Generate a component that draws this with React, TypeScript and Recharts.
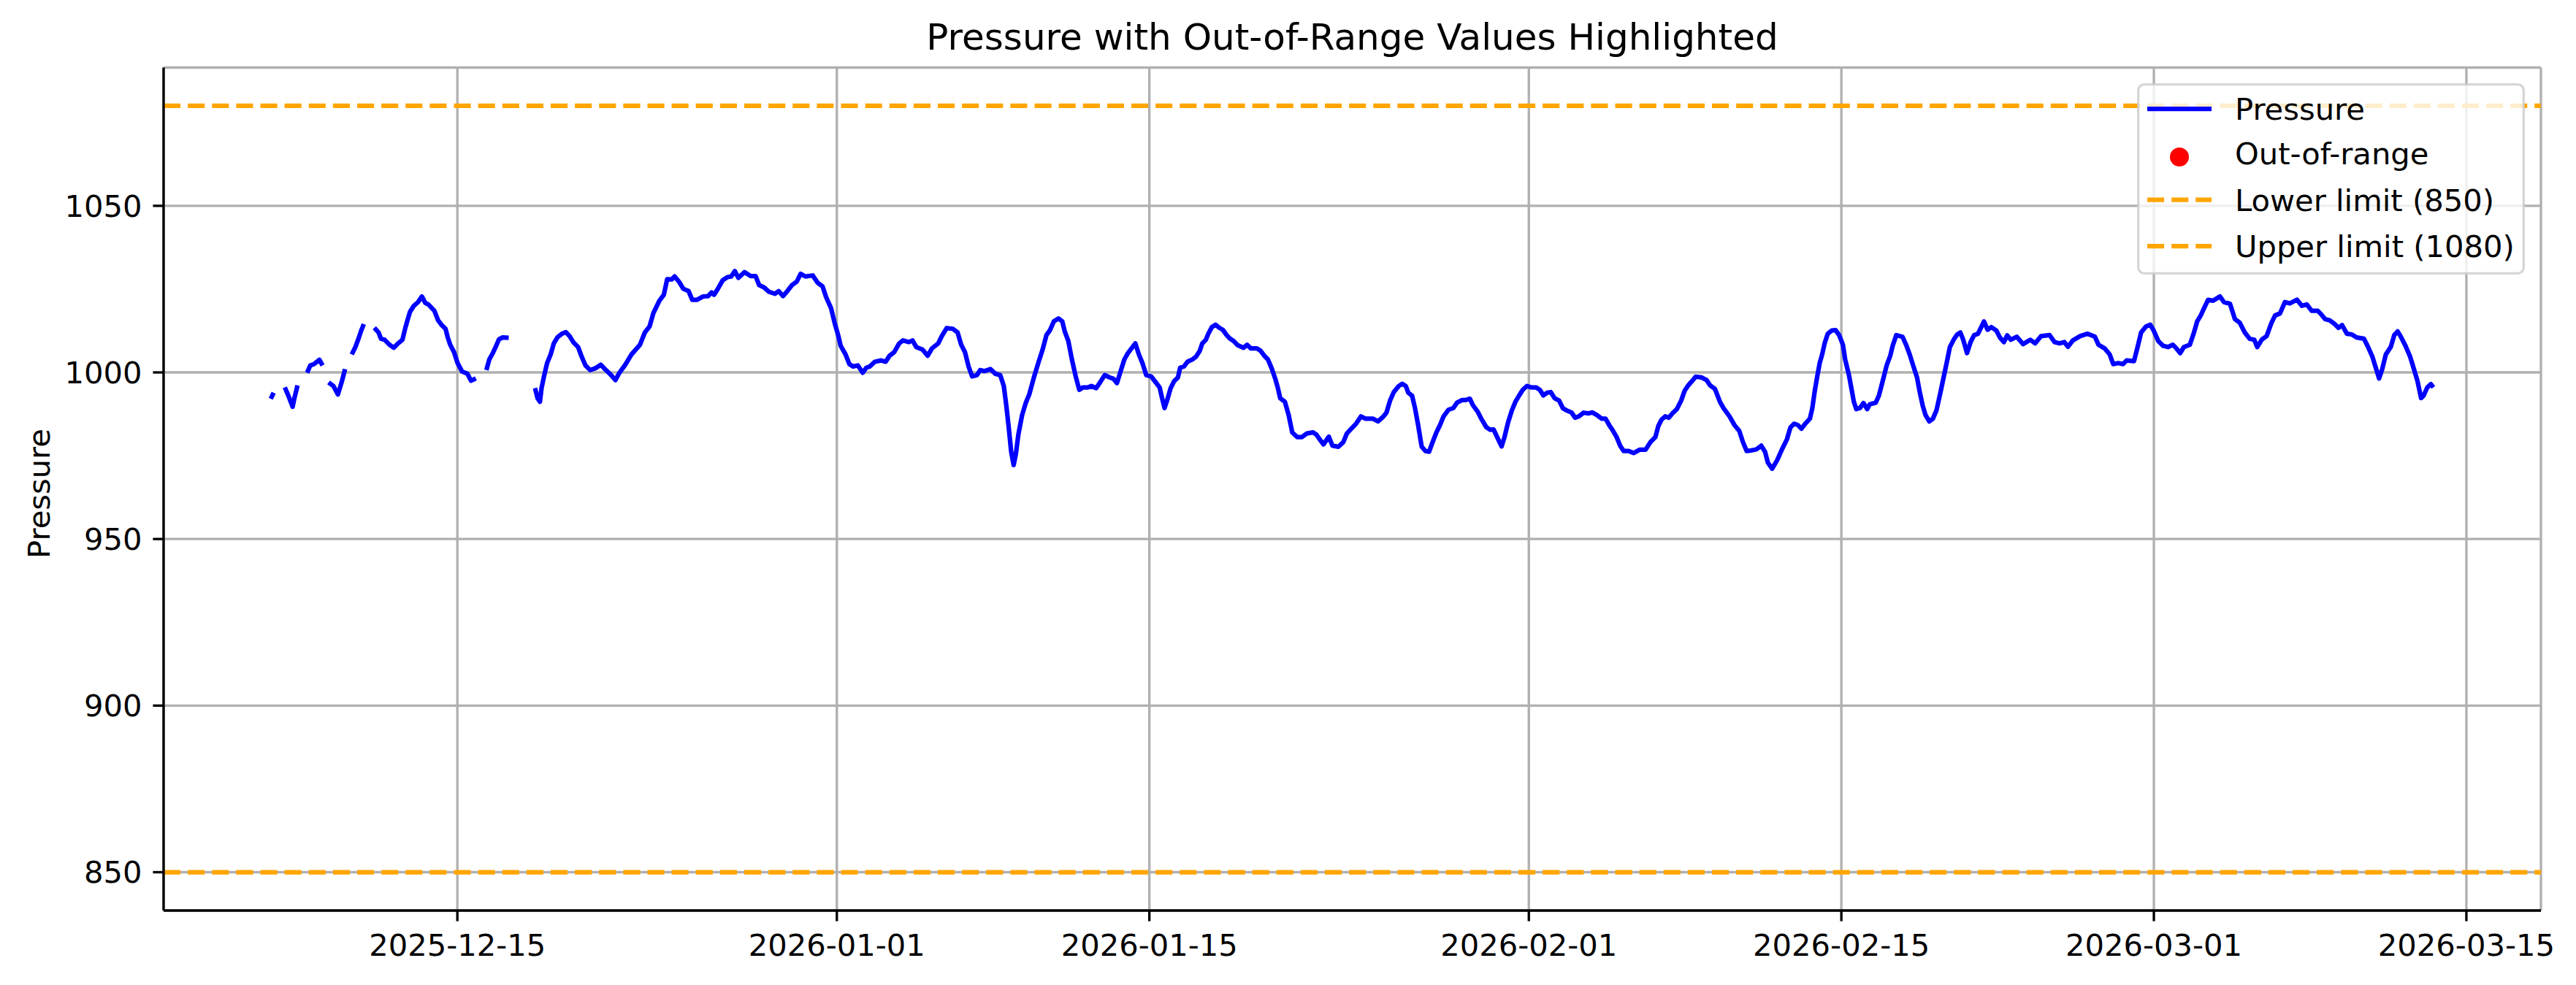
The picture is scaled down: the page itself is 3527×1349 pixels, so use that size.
import {
  ComposedChart,
  Line,
  Scatter,
  XAxis,
  YAxis,
  CartesianGrid,
  ReferenceLine,
  Legend,
} from 'recharts';

// days since 2025-12-01 00:00 (hourly readings, thinned); null = missing reading (gap)
const days: number[] = [
  5.64, 5.77, 6.0,
  6.27, 6.43, 6.62, 6.7, 6.84, 7.05,
  7.27, 7.41, 7.58, 7.82, 7.96, 8.1,
  8.23, 8.45, 8.65, 8.83, 8.97, 9.12,
  9.27, 9.43, 9.59, 9.7, 9.81, 10.05,
  10.28, 10.47, 10.58, 10.74, 10.96, 11.15, 11.34, 11.54, 11.67, 11.81, 11.88, 12.05, 12.24, 12.41,
  12.56, 12.7, 12.97, 13.14, 13.3, 13.47, 13.57, 13.68, 13.85, 14.01, 14.21, 14.45, 14.61, 14.83, 15.05,
  15.3, 15.43, 15.59, 15.76, 15.86, 16.03, 16.3, 16.9,
  17.48, 17.59, 17.7, 17.77, 17.88, 18.02, 18.18, 18.32, 18.48, 18.68, 18.86, 19.03, 19.19, 19.41,
  19.57, 19.74, 19.95, 20.17, 20.42, 20.61, 20.83, 21.08, 21.26,
  21.52, 21.8, 22.01, 22.18, 22.4, 22.61, 22.78, 23.05, 23.25, 23.4, 23.6, 23.73, 23.92, 24.12, 24.36,
  24.52, 24.74, 25.01, 25.23, 25.39, 25.5, 25.67, 25.89, 26.1, 26.27, 26.43, 26.59, 26.86, 27.14, 27.36,
  27.52, 27.74, 27.96, 28.23, 28.39, 28.59, 28.78, 28.99, 29.21, 29.38, 29.59, 29.92, 30.14, 30.36, 30.52,
  30.74, 30.9, 31.07, 31.17, 31.39, 31.56, 31.72, 31.94, 32.16, 32.32, 32.48, 32.7, 32.97, 33.19, 33.36,
  33.57, 33.79, 33.96, 34.23, 34.39, 34.56, 34.83, 35.07, 35.26, 35.54, 35.7, 35.92, 36.19, 36.41, 36.57,
  36.74, 36.9, 37.06, 37.28, 37.42, 37.61,
  37.88, 38.1, 38.32, 38.48, 38.59, 38.7, 38.81, 38.92, 39.02, 39.13, 39.3, 39.46, 39.62, 39.84, 40.06,
  40.22, 40.39, 40.55, 40.72, 40.93, 41.1, 41.21, 41.37, 41.53, 41.7, 41.86, 42.02, 42.24, 42.4, 42.62,
  42.79, 43.0, 43.22, 43.39, 43.55, 43.71, 43.88, 44.04, 44.2, 44.37, 44.53, 44.69, 44.86, 45.08, 45.29,
  45.46, 45.57, 45.68, 45.79, 45.95, 46.11, 46.28, 46.38, 46.55, 46.71, 46.93, 47.09, 47.26, 47.37, 47.53,
  47.64, 47.8, 47.97, 48.13, 48.29, 48.46, 48.62, 48.78, 48.95, 49.22, 49.38, 49.55, 49.82, 49.98, 50.15,
  50.31, 50.47, 50.64, 50.75, 50.86, 51.07, 51.24, 51.4, 51.62, 51.84, 52.06, 52.33, 52.49, 52.6, 52.8,
  53.04, 53.2, 53.47, 53.69, 53.85,
  54.03, 54.26, 54.48, 54.69, 55.02, 55.24, 55.46, 55.62, 55.78, 55.95, 56.17, 56.33, 56.49, 56.6, 56.77,
  56.9, 57.04, 57.2, 57.37, 57.53, 57.69, 57.86, 58.02, 58.18, 58.4, 58.62, 58.78, 59.0, 59.16, 59.36,
  59.49, 59.71, 59.87, 60.09, 60.26, 60.42, 60.58, 60.78, 60.91, 61.07, 61.24, 61.4, 61.56, 61.73, 61.91,
  62.11, 62.33, 62.49, 62.65, 62.82, 62.98, 63.15, 63.36, 63.53, 63.69, 63.91, 64.07, 64.24, 64.45, 64.67,
  64.84, 65.05, 65.27, 65.44, 65.6, 65.76, 65.93, 66.09, 66.25, 66.47, 66.69, 66.96, 67.23, 67.45, 67.67,
  67.8, 67.94, 68.11, 68.27, 68.43, 68.63, 68.82, 68.98, 69.14, 69.31, 69.47, 69.74, 69.96, 70.12, 70.34,
  70.56, 70.72, 70.99, 71.21, 71.43, 71.59, 71.76, 71.98, 72.19, 72.41, 72.58, 72.71, 72.9, 73.12, 73.34,
  73.56, 73.72, 73.88, 74.05, 74.21, 74.38, 74.59, 74.7, 74.81, 74.92, 75.03, 75.14, 75.25, 75.39, 75.57,
  75.74, 75.9, 76.07, 76.17, 76.34, 76.45, 76.56, 76.67, 76.83, 76.99, 77.16, 77.27, 77.54, 77.68, 77.81,
  77.92, 78.03, 78.19, 78.3, 78.46, 78.74, 78.9, 79.06, 79.23, 79.39, 79.5, 79.64, 79.77, 79.94, 80.1,
  80.26, 80.43, 80.59, 80.75, 80.86, 81.03, 81.19, 81.33, 81.46, 81.63, 81.79, 81.95, 82.12, 82.28, 82.39,
  82.55, 82.72, 82.94, 83.1, 83.28, 83.43, 83.59, 83.86, 84.14, 84.46, 84.68, 84.95, 85.33, 85.55, 85.77,
  85.99, 86.15, 86.37, 86.7,
  87.03, 87.36, 87.52, 87.8, 88.02, 88.18, 88.4, 88.62, 88.78, 89.11, 89.27, 89.43, 89.65, 89.84, 89.98,
  90.2, 90.41, 90.63, 90.85, 91.01, 91.18, 91.34, 91.61, 91.78, 91.94, 92.1, 92.27, 92.43, 92.65, 92.96,
  93.14, 93.41, 93.63, 93.85, 94.07, 94.29, 94.5, 94.63, 94.83, 95.05, 95.27, 95.43, 95.65, 95.87, 96.09,
  96.41, 96.63, 96.85, 97.07, 97.34, 97.5, 97.67, 97.88, 98.1, 98.27, 98.43, 98.65, 98.87, 99.08, 99.41,
  99.57, 99.79, 99.96, 100.09, 100.23, 100.39, 100.61, 100.77, 100.92, 101.05, 101.27, 101.48, 101.65, 101.81, 101.97,
  102.08, 102.25, 102.41, 102.52,
];

const pressure: (number | null)[] = [
  992.1, 993.9, null,
  995.5, 993.0, 989.7, 992.3, 996.1, null,
  999.9, 1002.1, 1002.5, 1003.8, 1002.1, null,
  997.0, 995.9, 993.4, 997.4, 1001.0, null,
  1005.4, 1007.6, 1010.5, 1012.7, 1014.5, null,
  1013.4, 1012.0, 1010.1, 1009.8, 1008.3, 1007.4, 1008.7, 1009.8, 1013.4, 1016.7, 1018.2, 1020.0, 1021.1, 1022.8,
  1020.9, 1020.4, 1018.5, 1015.6, 1014.2, 1013.1, 1010.5, 1008.3, 1006.1, 1002.8, 1000.3, 999.6, 997.5, 998.2, null,
  1000.7, 1003.9, 1005.8, 1008.3, 1009.9, 1010.5, 1010.4, null,
  995.3, 992.3, 991.2, 995.2, 998.8, 1002.8, 1005.4, 1008.7, 1010.5, 1011.6, 1012.1, 1010.9, 1009.1, 1007.6,
  1004.7, 1002.1, 1000.7, 1001.2, 1002.3, 1001.0, 999.6, 997.7, 999.9,
  1002.3, 1005.4, 1007.0, 1008.3, 1012.0, 1013.8, 1017.8, 1021.5, 1023.3, 1028.0, 1027.9, 1028.8, 1027.3, 1025.1, 1024.4,
  1021.8, 1021.8, 1022.8, 1022.9, 1024.0, 1023.3, 1025.1, 1027.7, 1028.6, 1028.8, 1030.4, 1028.4, 1030.1, 1028.9, 1028.9,
  1026.2, 1025.5, 1024.2, 1023.6, 1024.4, 1022.9, 1024.4, 1026.2, 1027.3, 1029.6, 1028.8, 1029.1, 1026.9, 1025.8, 1022.6,
  1019.3, 1014.9, 1010.9, 1008.0, 1005.4, 1002.5, 1001.8, 1002.1, 999.9, 1001.4, 1001.8, 1003.2, 1003.6, 1003.2, 1005.0,
  1006.1, 1008.7, 1009.6, 1009.1, 1009.6, 1007.6, 1006.9, 1005.0, 1007.2, 1008.7, 1010.9, 1013.3, 1013.1, 1012.0, 1008.3,
  1006.1, 1001.8, 998.8, 999.2, 1000.7, 1000.4,
  1001.0, 999.6, 999.2, 995.9, 990.1, 983.5, 976.2, 972.2, 975.5, 981.3, 987.2, 990.8, 993.4, 998.8, 1003.6,
  1006.9, 1011.2, 1012.7, 1015.3, 1016.2, 1015.3, 1012.3, 1009.4, 1003.9, 998.8, 994.8, 995.5, 995.5, 995.9, 995.3,
  997.0, 999.2, 998.5, 998.1, 996.8, 1000.3, 1003.9, 1005.8, 1007.2, 1008.7, 1005.4, 1002.8, 999.2, 998.8, 997.0,
  995.5, 992.3, 989.3, 991.5, 995.2, 997.4, 998.5, 1001.4, 1001.8, 1003.2, 1003.9, 1004.7, 1006.5, 1008.7, 1009.8,
  1011.6, 1013.6, 1014.3, 1013.4, 1012.8, 1011.2, 1010.1, 1009.4, 1008.2, 1007.4, 1008.3, 1007.2, 1007.2, 1006.5, 1005.0,
  1003.9, 1001.4, 998.1, 995.5, 992.3, 991.2, 987.2, 982.0, 980.6, 980.6, 981.7, 982.0, 981.3, 980.2, 978.4,
  980.7, 978.0, 977.7, 979.1, 981.7,
  983.0, 984.6, 986.8, 986.1, 986.1, 985.3, 986.6, 987.9, 991.5, 994.1, 995.9, 996.6, 995.9, 993.9, 993.0,
  989.3, 984.2, 977.7, 976.4, 976.2, 979.1, 982.0, 984.2, 986.8, 988.8, 989.3, 990.9, 991.7, 991.7, 992.1,
  990.2, 988.2, 986.1, 983.6, 982.8, 982.9, 980.6, 977.8, 980.6, 985.0, 988.6, 991.2, 993.0, 994.8, 995.9,
  995.5, 995.5, 994.8, 993.1, 993.9, 994.1, 992.3, 991.5, 989.2, 988.6, 988.0, 986.4, 986.8, 987.9, 987.7,
  988.0, 987.2, 986.1, 986.1, 984.2, 982.6, 980.6, 978.0, 976.4, 976.4, 975.8, 976.8, 976.8, 979.1, 980.6,
  983.9, 985.8, 986.8, 986.4, 987.7, 989.0, 991.5, 994.5, 996.1, 997.4, 998.7, 998.5, 997.7, 996.1, 995.0,
  991.2, 989.3, 986.8, 984.2, 982.4, 979.1, 976.4, 976.6, 976.9, 978.0, 976.2, 972.9, 971.1, 973.6, 976.9,
  979.9, 983.5, 984.6, 984.2, 983.1, 984.6, 986.1, 989.3, 994.5, 998.8, 1002.8, 1005.4, 1008.7, 1011.6, 1012.6,
  1012.7, 1011.2, 1008.3, 1003.9, 999.2, 995.2, 991.2, 989.0, 989.3, 990.8, 989.0, 990.4, 990.9, 993.0, 996.3,
  999.2, 1002.1, 1005.0, 1008.0, 1011.2, 1010.7, 1008.3, 1005.4, 1001.8, 998.5, 994.5, 990.1, 987.2, 985.3, 986.1,
  988.6, 993.7, 998.8, 1003.9, 1007.6, 1009.8, 1011.4, 1012.0, 1009.8, 1005.8, 1009.1, 1011.2, 1011.6, 1013.8, 1015.3,
  1012.8, 1013.6, 1012.6, 1010.5, 1009.1, 1011.1, 1009.8, 1010.7, 1008.5, 1009.8, 1008.7, 1010.9, 1011.2, 1009.1, 1008.7,
  1009.1, 1007.7, 1009.6, 1010.9,
  1011.6, 1010.7, 1008.3, 1007.2, 1005.4, 1002.5, 1002.8, 1002.5, 1003.6, 1003.4, 1007.6, 1012.0, 1013.8, 1014.3, 1012.7,
  1009.4, 1008.0, 1007.6, 1008.3, 1007.2, 1005.8, 1007.6, 1008.3, 1011.6, 1015.3, 1017.1, 1019.6, 1021.8, 1021.5, 1022.8,
  1021.1, 1020.6, 1016.0, 1014.9, 1012.0, 1010.1, 1009.8, 1007.6, 1009.8, 1010.9, 1014.9, 1017.1, 1017.7, 1021.1, 1020.7,
  1021.8, 1020.0, 1020.4, 1018.5, 1018.5, 1017.4, 1016.0, 1015.6, 1014.5, 1013.4, 1014.2, 1011.6, 1011.4, 1010.5, 1010.1,
  1008.0, 1004.7, 1001.0, 998.2, 1001.0, 1005.4, 1007.6, 1011.2, 1012.3, 1010.9, 1008.0, 1004.7, 1001.0, 997.4, 992.3,
  993.0, 995.5, 996.5, 995.5,
];

const lowerLimit = 850;
const upperLimit = 1080;

// nothing fell outside the limits in this window, so this ends up empty
const outOfRange = days
  .map((day, i) => ({ day, pressure: pressure[i] }))
  .filter((p) => p.pressure !== null && (p.pressure < lowerLimit || p.pressure > upperLimit));

const epochDate = '2025-12-01';
const tickDates = ['2025-12-15', '2026-01-01', '2026-01-15', '2026-02-01', '2026-02-15', '2026-03-01', '2026-03-15'];
const yTicks = [850, 900, 950, 1000, 1050];

const DAY_MS = 86400000;
const tickDays = tickDates.map((d) => Math.round((Date.parse(d) - Date.parse(epochDate)) / DAY_MS));
const tickLabel = (v: number) => tickDates[tickDays.indexOf(v)] ?? '';

const data = days.map((day, i) => ({ day, pressure: pressure[i] }));

// figure geometry (matplotlib at 300 dpi)
const W = 3527;
const H = 1349;
const PT = 300 / 72;
const PLOT = { left: 224, top: 92.5, right: 3479, bottom: 1247 };
const FONT = "'DejaVu Sans', sans-serif";
const FS = 10 * PT;
const X_DOMAIN: [number, number] = [0.84, 107.34];
const Y_DOMAIN: [number, number] = [838.5, 1091.5];

const spine = { stroke: '#000', strokeWidth: 0.8 * PT };
const dash = `${5.55 * PT} ${2.4 * PT}`;

const LegendBox = () => (
  <svg width={531} height={262} style={{ display: 'block' }}>
    <rect
      x={1.7}
      y={1.7}
      width={527.6}
      height={258.6}
      rx={8}
      fill="#fff"
      fillOpacity={0.8}
      stroke="#cccccc"
      strokeOpacity={0.8}
      strokeWidth={0.8 * PT}
    />
    <line x1={14} x2={102} y1={35} y2={35} stroke="#0000ff" strokeWidth={1.5 * PT} />
    <circle cx={58} cy={101} r={13} fill="#ff0000" />
    <line x1={14} x2={102} y1={159.5} y2={159.5} stroke="#ffa500" strokeWidth={1.5 * PT} strokeDasharray={dash} />
    <line x1={14} x2={102} y1={223} y2={223} stroke="#ffa500" strokeWidth={1.5 * PT} strokeDasharray={dash} />
    <g fontFamily={FONT} fontSize={FS} fill="#000">
      <text x={134} y={49.5}>Pressure</text>
      <text x={134} y={111}>Out-of-range</text>
      <text x={134} y={174.5}>Lower limit (850)</text>
      <text x={134} y={237.5}>Upper limit (1080)</text>
    </g>
  </svg>
);

export default function App() {
  return (
    <div style={{ position: 'absolute', left: 0, top: 0, width: W, height: H, background: '#fff' }}>
      <ComposedChart
        width={W}
        height={H}
        data={data}
        margin={{ top: PLOT.top, right: W - PLOT.right, bottom: 0, left: 0 }}
        style={{ fontFamily: FONT }}
      >
        <CartesianGrid stroke="#b0b0b0" strokeWidth={0.8 * PT} />
        <XAxis
          dataKey="day"
          type="number"
          domain={X_DOMAIN}
          allowDataOverflow
          ticks={tickDays}
          tickFormatter={tickLabel}
          interval={0}
          height={H - PLOT.bottom}
          axisLine={spine}
          tickLine={spine}
          tickSize={3.5 * PT}
          tickMargin={18}
          tick={{ fill: '#000', fontSize: FS, fontFamily: FONT }}
        />
        <XAxis
          xAxisId="top"
          orientation="top"
          dataKey="day"
          type="number"
          domain={X_DOMAIN}
          allowDataOverflow
          height={0}
          tick={false}
          tickLine={false}
          axisLine={spine}
        />
        <YAxis
          type="number"
          domain={Y_DOMAIN}
          allowDataOverflow
          ticks={yTicks}
          interval={0}
          width={PLOT.left}
          axisLine={spine}
          tickLine={spine}
          tickSize={3.5 * PT}
          tickMargin={15}
          tick={{ fill: '#000', fontSize: FS, fontFamily: FONT }}
        />
        <YAxis
          yAxisId="right"
          orientation="right"
          type="number"
          domain={Y_DOMAIN}
          allowDataOverflow
          width={0}
          tick={false}
          tickLine={false}
          axisLine={spine}
        />
        <Line
          dataKey="pressure"
          type="linear"
          stroke="#0000ff"
          strokeWidth={1.5 * PT}
          strokeLinejoin="round"
          dot={false}
          activeDot={false}
          connectNulls={false}
          isAnimationActive={false}
        />
        {outOfRange.length > 0 && (
          <Scatter data={outOfRange} dataKey="pressure" fill="#ff0000" isAnimationActive={false} />
        )}
        <ReferenceLine y={lowerLimit} stroke="#ffa500" strokeWidth={1.5 * PT} strokeDasharray={dash} />
        <ReferenceLine y={upperLimit} stroke="#ffa500" strokeWidth={1.5 * PT} strokeDasharray={dash} />
        <Legend
          layout="vertical"
          align="center"
          verticalAlign="middle"
          content={() => <LegendBox />}
          wrapperStyle={{ left: 2926, top: 114, width: 531, height: 262 }}
        />
      </ComposedChart>
      <svg
        width={W}
        height={H}
        style={{ position: 'absolute', left: 0, top: 0, pointerEvents: 'none' }}
        fontFamily={FONT}
      >
        <text x={(PLOT.left + PLOT.right) / 2} y={67.5} textAnchor="middle" fontSize={12 * PT} fill="#000">
          Pressure with Out-of-Range Values Highlighted
        </text>
        <text x={68} y={676} transform="rotate(-90 68 676)" textAnchor="middle" fontSize={FS} fill="#000">
          Pressure
        </text>
      </svg>
    </div>
  );
}
